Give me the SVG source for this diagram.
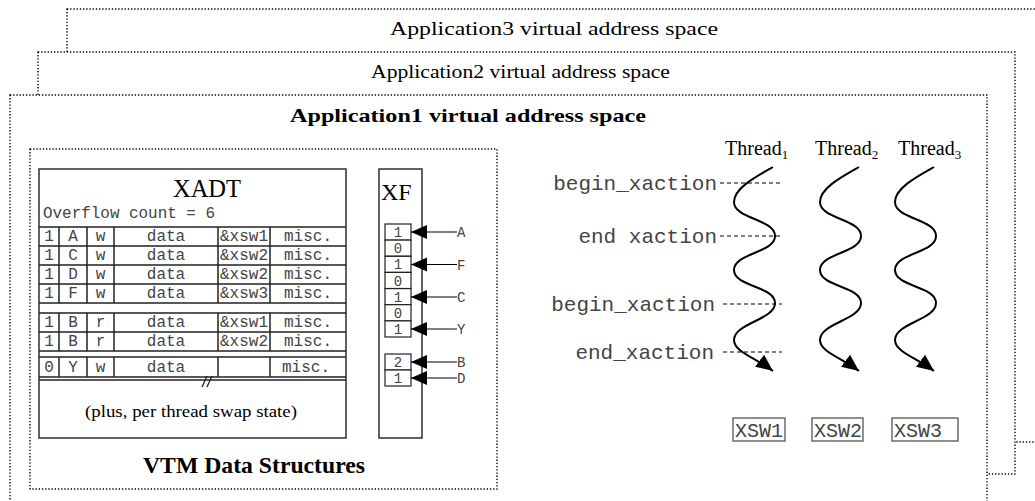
<svg xmlns="http://www.w3.org/2000/svg" width="1035" height="501" viewBox="0 0 1035 501">
<style>
.dot{fill:#fff;stroke:#000;stroke-width:1.4;stroke-dasharray:1.3 1.9}
.dotn{fill:none;stroke:#000;stroke-width:1.4;stroke-dasharray:1.3 1.9}
.serif{font-family:"Liberation Serif","Times New Roman",serif;fill:#000}
.mono{font-family:"Liberation Mono","Courier New",monospace;fill:#444}
.tl{stroke:#222;stroke-width:1.5;fill:none}
.box{fill:#fff;stroke:#222;stroke-width:1.4}
.cell{fill:#fff;stroke:#222;stroke-width:1.2}
.arr{stroke:#000;stroke-width:1.2;fill:none}
.wave{stroke:#000;stroke-width:2;fill:none}
.dash{stroke:#000;stroke-width:1;stroke-dasharray:4 3;fill:none}
.xsw{fill:#fff;stroke:#555;stroke-width:1.3}
</style>
<defs>
<marker id="ah" markerUnits="userSpaceOnUse" markerWidth="17" markerHeight="15" refX="16" refY="7" orient="auto">
<path d="M0,0 L16,7 L0,14 Z" fill="#000"/>
</marker>
<marker id="wh" markerUnits="userSpaceOnUse" markerWidth="18" markerHeight="16" refX="17" refY="7.5" orient="auto">
<path d="M0,0 L17,7.5 L0,15 Z" fill="#000"/>
</marker>
</defs>
<rect width="1035" height="501" fill="#fff"/>

<g id="app3">
<rect class="dot" x="67" y="9" width="990" height="433"/>
<text class="serif" x="390" y="35" font-size="19" textLength="328" lengthAdjust="spacingAndGlyphs">Application3 virtual address space</text>
</g>
<g id="app2">
<rect class="dot" x="38" y="52" width="977" height="422"/>
<text class="serif" x="371" y="78" font-size="19" textLength="299" lengthAdjust="spacingAndGlyphs">Application2 virtual address space</text>
</g>
<g id="app1">
<rect class="dot" x="10" y="95" width="977" height="430"/>
<text class="serif" x="290" y="122" font-size="19" font-weight="bold" textLength="356" lengthAdjust="spacingAndGlyphs">Application1 virtual address space</text>
</g>

<g id="vtm">
<rect class="dotn" x="30" y="149" width="467" height="340"/>
<text class="serif" x="143" y="473" font-size="23" font-weight="bold" textLength="222" lengthAdjust="spacingAndGlyphs">VTM Data Structures</text>
</g>

<g id="xadt">
<rect class="box" x="39" y="169" width="307" height="269"/>
<text class="serif" x="207" y="197" font-size="24.5" text-anchor="middle">XADT</text>
<text class="mono" x="43" y="218" font-size="16" textLength="172" lengthAdjust="spacingAndGlyphs">Overflow count = 6</text>
<path class="tl" d="M39,227H346M39,246H346M39,265H346M39,284H346M39,303H346M39,313H346M39,332H346M39,351H346M39,357H346M39,377H346M39,380H346"/>
<path class="tl" d="M59,227V303M87,227V303M114,227V303M218,227V303M270,227V303M59,313V351M87,313V351M114,313V351M218,313V351M270,313V351M59,357V377M87,357V377M114,357V377M218,357V377M270,357V377"/>
<path d="M202,387L207,376M207,387L212,376" stroke="#222" stroke-width="1.3"/>
<g class="mono" font-size="16" text-anchor="middle">
<text x="49" y="240.5">1</text><text x="73" y="240.5">A</text><text x="100.5" y="240.5">w</text><text x="166" y="240.5">data</text><text x="244" y="240.5">&amp;xsw1</text><text x="308" y="240.5">misc.</text>
<text x="49" y="259.5">1</text><text x="73" y="259.5">C</text><text x="100.5" y="259.5">w</text><text x="166" y="259.5">data</text><text x="244" y="259.5">&amp;xsw2</text><text x="308" y="259.5">misc.</text>
<text x="49" y="278.5">1</text><text x="73" y="278.5">D</text><text x="100.5" y="278.5">w</text><text x="166" y="278.5">data</text><text x="244" y="278.5">&amp;xsw2</text><text x="308" y="278.5">misc.</text>
<text x="49" y="297.5">1</text><text x="73" y="297.5">F</text><text x="100.5" y="297.5">w</text><text x="166" y="297.5">data</text><text x="244" y="297.5">&amp;xsw3</text><text x="308" y="297.5">misc.</text>
<text x="49" y="326.5">1</text><text x="73" y="326.5">B</text><text x="100.5" y="326.5">r</text><text x="166" y="326.5">data</text><text x="244" y="326.5">&amp;xsw1</text><text x="308" y="326.5">misc.</text>
<text x="49" y="345.5">1</text><text x="73" y="345.5">B</text><text x="100.5" y="345.5">r</text><text x="166" y="345.5">data</text><text x="244" y="345.5">&amp;xsw2</text><text x="308" y="345.5">misc.</text>
<text x="49" y="371.5">0</text><text x="73" y="371.5">Y</text><text x="100.5" y="371.5">w</text><text x="166" y="371.5">data</text><text x="306" y="371.5">misc.</text>
</g>
<text class="serif" x="191" y="417" font-size="17.5" text-anchor="middle" textLength="212" lengthAdjust="spacingAndGlyphs">(plus, per thread swap state)</text>
</g>

<g id="xf">
<rect class="box" x="379" y="169" width="43" height="269"/>
<text class="serif" x="381" y="200" font-size="24">XF</text>
<rect class="cell" x="385" y="224" width="26" height="16.1"/>
<rect class="cell" x="385" y="240.1" width="26" height="16.1"/>
<rect class="cell" x="385" y="256.3" width="26" height="16.1"/>
<rect class="cell" x="385" y="272.4" width="26" height="16.1"/>
<rect class="cell" x="385" y="288.6" width="26" height="16.1"/>
<rect class="cell" x="385" y="304.7" width="26" height="16.1"/>
<rect class="cell" x="385" y="320.9" width="26" height="16.1"/>
<rect class="cell" x="385" y="354" width="26" height="16"/>
<rect class="cell" x="385" y="370" width="26" height="16"/>
<g class="mono" font-size="14" text-anchor="middle">
<text x="398" y="237">1</text><text x="398" y="253">0</text><text x="398" y="269">1</text><text x="398" y="285.5">0</text><text x="398" y="301.5">1</text><text x="398" y="317.5">0</text><text x="398" y="333.5">1</text>
<text x="398" y="366.5">2</text><text x="398" y="382.5">1</text>
</g>
</g>

<g id="connectors">
<line class="arr" x1="457" y1="232" x2="411" y2="232" marker-end="url(#ah)"/>
<line class="arr" x1="457" y1="264.5" x2="411" y2="264.5" marker-end="url(#ah)"/>
<line class="arr" x1="457" y1="297" x2="411" y2="297" marker-end="url(#ah)"/>
<line class="arr" x1="457" y1="329" x2="411" y2="329" marker-end="url(#ah)"/>
<line class="arr" x1="457" y1="362" x2="411" y2="362" marker-end="url(#ah)"/>
<line class="arr" x1="457" y1="378" x2="411" y2="378" marker-end="url(#ah)"/>
<g class="mono" font-size="14">
<text x="457" y="237">A</text><text x="457" y="269.5">F</text><text x="457" y="302">C</text><text x="457" y="334">Y</text><text x="457" y="367">B</text><text x="457" y="383">D</text>
</g>
<line class="dash" x1="720" y1="183" x2="782" y2="183"/>
<line class="dash" x1="720" y1="236" x2="782" y2="236"/>
<line class="dash" x1="723" y1="304" x2="782" y2="304"/>
<line class="dash" x1="723" y1="352" x2="782" y2="352"/>
<g class="mono" font-size="21" text-anchor="end">
<text x="717" y="190">begin_xaction</text>
<text x="717" y="243">end xaction</text>
<text x="715" y="311">begin_xaction</text>
<text x="714" y="359">end_xaction</text>
</g>
</g>

<g id="thread1">
<text class="serif" x="725" y="155" font-size="20">Thread<tspan font-size="13" dy="4">1</tspan></text>
<path class="wave" d="M773,167 C757,176 734,188 734,202 C734,219 775,219 775,236 C775,253 734,253 734,270 C734,287 775,286 775,303 C775,320 734,323 734,340 C734,352 756,358 773,371" marker-end="url(#wh)"/>
</g>
<g id="thread2">
<text class="serif" x="815" y="155" font-size="20">Thread<tspan font-size="13" dy="4">2</tspan></text>
<path class="wave" transform="translate(86,0)" d="M773,167 C757,176 734,188 734,202 C734,219 775,219 775,236 C775,253 734,253 734,270 C734,287 775,286 775,303 C775,320 734,323 734,340 C734,352 756,358 773,371" marker-end="url(#wh)"/>
</g>
<g id="thread3">
<text class="serif" x="898" y="155" font-size="20">Thread<tspan font-size="13" dy="4">3</tspan></text>
<path class="wave" transform="translate(161,0)" d="M773,167 C757,176 734,188 734,202 C734,219 775,219 775,236 C775,253 734,253 734,270 C734,287 775,286 775,303 C775,320 734,323 734,340 C734,352 756,358 773,371" marker-end="url(#wh)"/>
</g>

<g id="xsw1">
<rect class="xsw" x="733" y="418" width="52" height="23"/>
<text class="mono" x="735" y="437" font-size="20">XSW1</text>
</g>
<g id="xsw2">
<rect class="xsw" x="812" y="418" width="51" height="23"/>
<text class="mono" x="814" y="437" font-size="20">XSW2</text>
</g>
<g id="xsw3">
<rect class="xsw" x="892" y="418" width="66" height="23"/>
<text class="mono" x="894" y="437" font-size="20">XSW3</text>
</g>
</svg>
